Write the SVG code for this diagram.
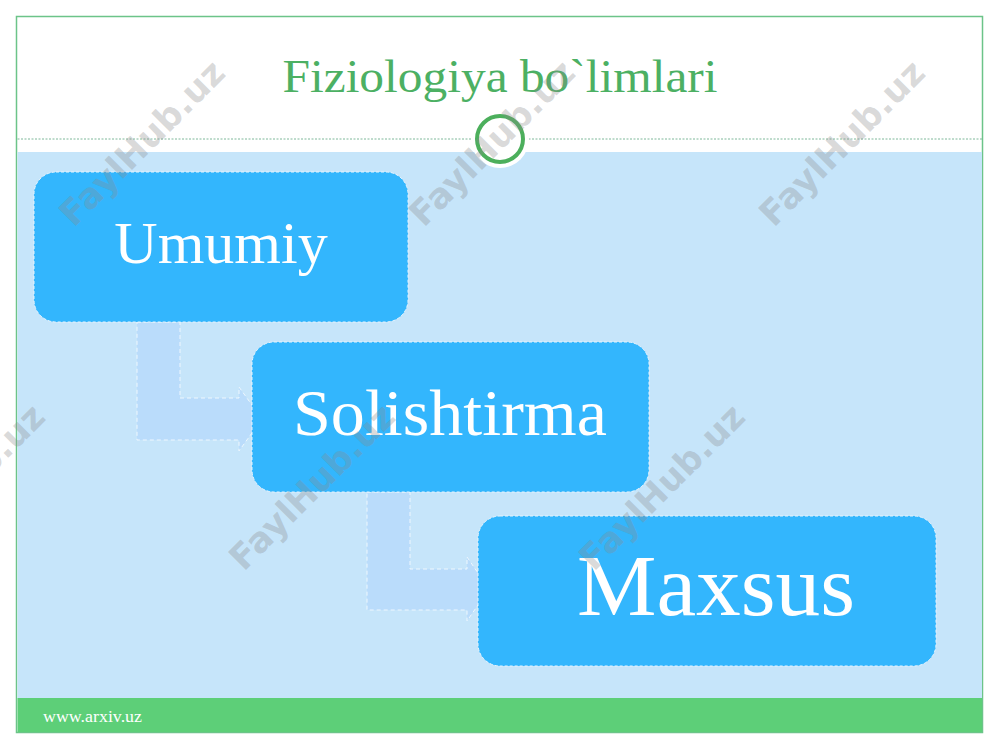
<svg xmlns="http://www.w3.org/2000/svg" width="1000" height="750" viewBox="0 0 1000 750">
  <defs>
    <style>
      .box { fill: #33b6fd; stroke: #e6f4fe; stroke-width: 1; stroke-dasharray: 3 2; }
      .lbl { font-family: "Liberation Serif", "DejaVu Serif", serif; fill: #ffffff; text-anchor: middle; }
      .arrow { fill: #badcfb; stroke: #eef7fe; stroke-width: 1; stroke-dasharray: 4 3; }
      .wm { font-family: "DejaVu Sans", "Liberation Sans", sans-serif; font-weight: bold; font-size: 35px; fill: #8a8a8a; fill-opacity: 0.32; text-anchor: middle; }
    </style>
  </defs>
  <rect x="0" y="0" width="1000" height="750" fill="#ffffff"/>
  <!-- frame -->
  <rect x="16.5" y="16.5" width="966" height="716" fill="#ffffff" stroke="#6cc489" stroke-width="1.5"/>
  <rect x="17.5" y="152" width="964.5" height="546" fill="#c6e5fa"/>
  <rect x="17.5" y="698" width="964.5" height="34" fill="#5dcf78"/>
  <line x1="17.5" y1="139" x2="982" y2="139" stroke="#7fb89a" stroke-width="1" stroke-dasharray="2 1.5"/>
  <circle cx="500" cy="139" r="29" fill="#ffffff"/>
  <circle cx="500" cy="139" r="23" fill="#ffffff" stroke="#4caf5c" stroke-width="4"/>
  <text x="500" y="92" font-family="Liberation Serif, DejaVu Serif, serif" font-size="46" fill="#4cb063" text-anchor="middle" textLength="435" lengthAdjust="spacingAndGlyphs">Fiziologiya bo`limlari</text>
  <text x="43" y="722" font-family="Liberation Serif, DejaVu Serif, serif" font-size="17" fill="#ffffff" textLength="99" lengthAdjust="spacingAndGlyphs">www.arxiv.uz</text>

  <g id="connectors">
    <path class="arrow" d="M137,322 L180,322 L180,398 L239,398 L239,387 L262,419 L239,451 L239,440 L137,440 Z"/>
    <path class="arrow" d="M367,492 L410,492 L410,569 L467,569 L467,557 L489,589 L467,621 L467,610 L367,610 Z"/>
  </g>

  <g id="node-umumiy">
    <rect class="box" x="34" y="172" width="374" height="150" rx="22" ry="22"/>
    <text class="lbl" x="221" y="263" font-size="60">Umumiy</text>
  </g>
  <g id="node-solishtirma">
    <rect class="box" x="252" y="342" width="397" height="150" rx="22" ry="22"/>
    <text class="lbl" x="450" y="435" font-size="66" textLength="314" lengthAdjust="spacingAndGlyphs">Solishtirma</text>
  </g>
  <g id="node-maxsus">
    <rect class="box" x="478" y="516" width="458" height="150" rx="22" ry="22"/>
    <text class="lbl" x="716" y="615" font-size="86" textLength="278" lengthAdjust="spacingAndGlyphs">Maxsus</text>
  </g>

  <g id="watermarks">
    <text class="wm" transform="translate(142,143) rotate(-45)" y="12">FaylHub.uz</text>
    <text class="wm" transform="translate(492,143) rotate(-45)" y="12">FaylHub.uz</text>
    <text class="wm" transform="translate(842,143) rotate(-45)" y="12">FaylHub.uz</text>
    <text class="wm" transform="translate(-38,487) rotate(-45)" y="12">FaylHub.uz</text>
    <text class="wm" transform="translate(312,487) rotate(-45)" y="12">FaylHub.uz</text>
    <text class="wm" transform="translate(662,487) rotate(-45)" y="12">FaylHub.uz</text>
  </g>
</svg>
